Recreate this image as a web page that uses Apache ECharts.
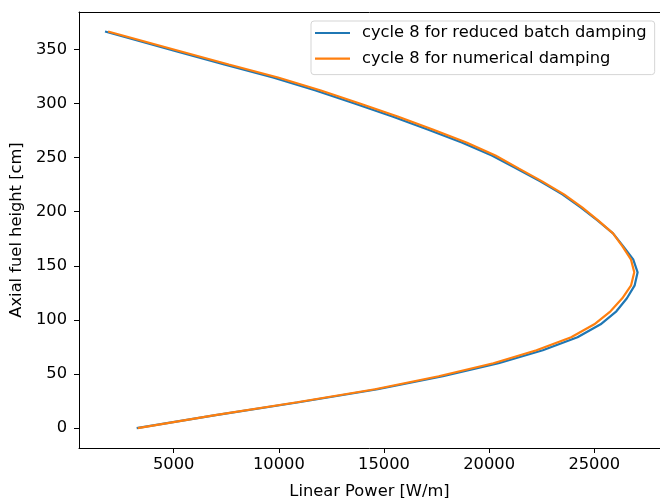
<!DOCTYPE html>
<html>
<head>
<meta charset="utf-8">
<script src="https://cdn.jsdelivr.net/npm/echarts@6/dist/echarts.min.js"></script>
<style>html,body{margin:0;padding:0;background:#fff}#c{width:660px;height:498px}</style>
</head>
<body>
<div id="c"></div>
<script>
var heights = [0, 12, 24, 36, 48, 60, 72, 84, 96, 108, 120, 132, 144, 156, 168, 180, 192, 204, 216, 228, 240, 252, 264, 276, 288, 300, 312, 324, 336, 348, 366.5];
var powerReduced = [3240, 7000, 10950, 14700, 17800, 20450, 22550, 24200, 25300, 26050, 26550, 26920, 27060, 26850, 26380, 25890, 25150, 24350, 23480, 22430, 21300, 20130, 18700, 17080, 15400, 13600, 11750, 9720, 7400, 5150, 1735];
var powerNumerical = [3290, 6970, 10870, 14570, 17600, 20200, 22250, 23900, 25000, 25770, 26330, 26750, 26900, 26740, 26340, 25890, 25180, 24420, 23560, 22520, 21400, 20300, 18920, 17320, 15650, 13850, 12000, 9960, 7620, 5350, 1880];
var seriesNames = ['cycle 8 for reduced batch damping', 'cycle 8 for numerical damping'];
var xTicks = [5000, 10000, 15000, 20000, 25000];
var yTicks = [0, 50, 100, 150, 200, 250, 300, 350];

function pairs(p) { return p.map(function (v, i) { return [v, heights[i]]; }); }
function plain(v) { return String(v); }

var font = 'DejaVu Sans';
var fs = 16.3;
var chart = echarts.init(document.getElementById('c'), null, {renderer: 'canvas'});
var axisLine = {show: true, onZero: false, lineStyle: {color: '#000', width: 1}};
chart.setOption({
  animation: false,
  backgroundColor: '#fff',
  grid: {left: 79, top: 12, right: 0, bottom: 50, containLabel: false, outerBoundsMode: 'none'},
  legend: {
    orient: 'vertical', left: 311, top: 21,
    data: seriesNames, icon: 'rect',
    itemWidth: 35, itemHeight: 2.2, itemGap: 9.6,
    padding: [4, 8, 8, 4],
    backgroundColor: 'rgba(255,255,255,0.8)',
    borderColor: '#d5d5d5', borderWidth: 1, borderRadius: 3,
    textStyle: {fontFamily: font, fontSize: fs, color: '#000', padding: [0, 0, 0, 7]}
  },
  xAxis: [{
    type: 'value', position: 'bottom', min: 497, max: 28124,
    axisLine: axisLine,
    axisTick: {show: true, length: 5, lineStyle: {color: '#000'}, customValues: xTicks},
    axisLabel: {show: true, margin: 9, color: '#000', fontFamily: font, fontSize: fs, customValues: xTicks, formatter: plain},
    splitLine: {show: false},
    name: 'Linear Power [W/m]', nameLocation: 'middle', nameGap: 36,
    nameTextStyle: {fontFamily: font, fontSize: fs, color: '#000'}
  }, {
    type: 'value', position: 'top', min: 497, max: 28124,
    axisLine: axisLine, axisTick: {show: false}, axisLabel: {show: false}, splitLine: {show: false}
  }],
  yAxis: [{
    type: 'value', position: 'left', min: -18.3, max: 384.5,
    axisLine: axisLine,
    axisTick: {show: true, length: 5, lineStyle: {color: '#000'}, customValues: yTicks},
    axisLabel: {show: true, margin: 12, color: '#000', fontFamily: font, fontSize: fs, customValues: yTicks, formatter: plain},
    splitLine: {show: false},
    name: 'Axial fuel height [cm]', nameLocation: 'middle', nameGap: 49, nameRotate: 90,
    nameTextStyle: {fontFamily: font, fontSize: fs, color: '#000'}
  }],
  series: [{
    name: seriesNames[0], type: 'line', data: pairs(powerReduced),
    showSymbol: false, symbol: 'none',
    lineStyle: {color: '#1f77b4', width: 2.2}, itemStyle: {color: '#1f77b4'}, z: 2
  }, {
    name: seriesNames[1], type: 'line', data: pairs(powerNumerical),
    showSymbol: false, symbol: 'none',
    lineStyle: {color: '#ff7f0e', width: 2.2}, itemStyle: {color: '#ff7f0e'}, z: 3
  }]
});
</script>
</body>
</html>
